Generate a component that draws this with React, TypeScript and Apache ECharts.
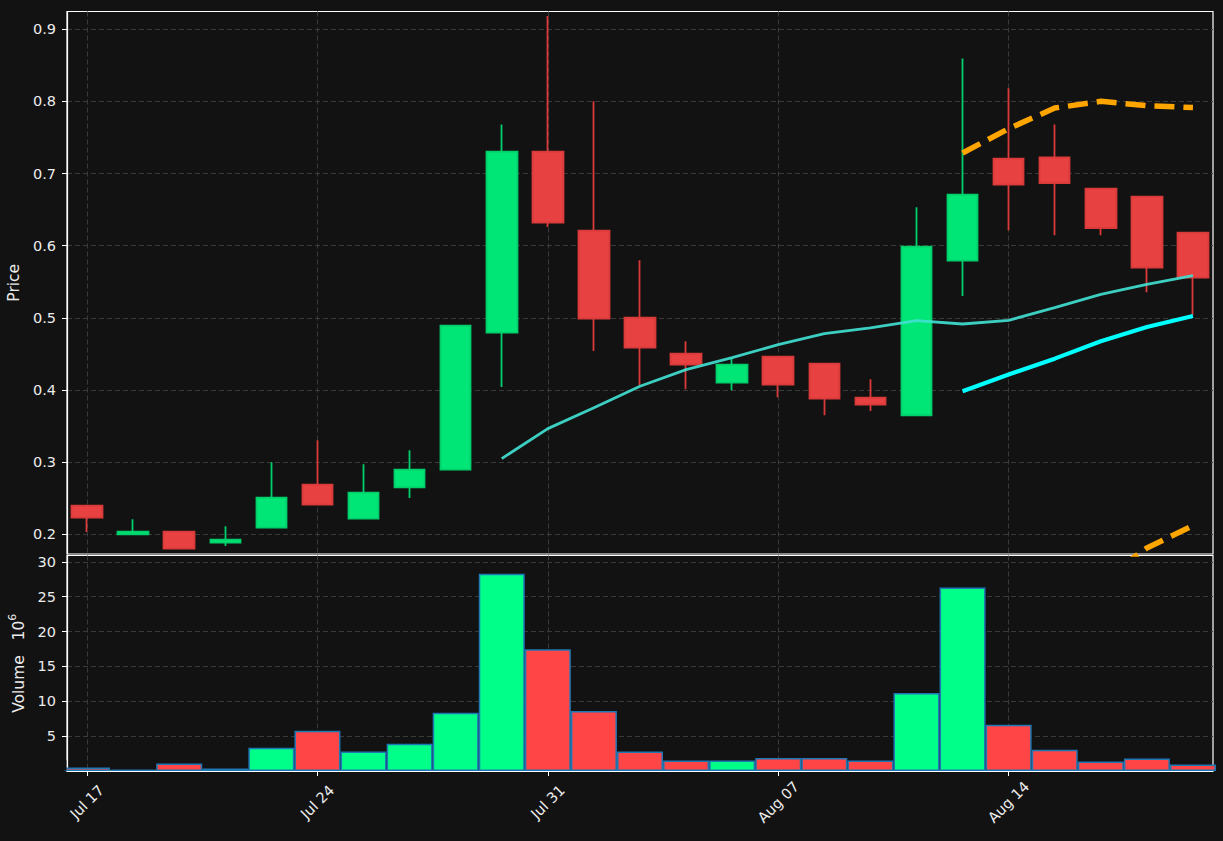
import React, { useEffect, useRef } from 'react';
import * as echarts from 'echarts';

// Trading days (weekends skipped)
const dates = [
  'Jul 17', 'Jul 18', 'Jul 19', 'Jul 20', 'Jul 21',
  'Jul 24', 'Jul 25', 'Jul 26', 'Jul 27', 'Jul 28',
  'Jul 31', 'Aug 01', 'Aug 02', 'Aug 03', 'Aug 04',
  'Aug 07', 'Aug 08', 'Aug 09', 'Aug 10', 'Aug 11',
  'Aug 14', 'Aug 15', 'Aug 16', 'Aug 17', 'Aug 18',
];

const opens = [
  0.2398, 0.2000, 0.2037, 0.1885, 0.2093,
  0.2689, 0.2218, 0.2651, 0.2897, 0.4796,
  0.7304, 0.6210, 0.5004, 0.4505, 0.4103,
  0.4463, 0.4366, 0.3895, 0.3650, 0.5794,
  0.7208, 0.7226, 0.6792, 0.6681, 0.6182,
];
const closes = [
  0.2231, 0.2037, 0.1802, 0.1927, 0.2509,
  0.2412, 0.2578, 0.2897, 0.4893, 0.7304,
  0.6321, 0.4990, 0.4588, 0.4352, 0.4352,
  0.4075, 0.3881, 0.3798, 0.5988, 0.6709,
  0.6848, 0.6870, 0.6246, 0.5697, 0.5558,
];
const lows = [
  0.2032, 0.2000, 0.1802, 0.1838, 0.2093,
  0.2412, 0.2213, 0.2503, 0.2897, 0.4042,
  0.6260, 0.4541, 0.4065, 0.4010, 0.3996,
  0.3899, 0.3650, 0.3709, 0.3650, 0.5303,
  0.6214, 0.6145, 0.6145, 0.5355, 0.5036,
];
const highs = [
  0.2398, 0.2208, 0.2037, 0.2111, 0.2998,
  0.3303, 0.2970, 0.3164, 0.4893, 0.7680,
  0.9185, 0.8002, 0.5798, 0.4675, 0.4449,
  0.4463, 0.4366, 0.4149, 0.6533, 0.8594,
  0.8183, 0.7680, 0.6805, 0.6681, 0.6182,
];

// Volume in millions
const volumes = [
  0.50, 0.20, 1.07, 0.35, 3.35,
  5.77, 2.78, 3.92, 8.34, 28.29,
  17.46, 8.62, 2.78, 1.50, 1.50,
  1.87, 1.87, 1.50, 11.19, 26.30,
  6.63, 3.06, 1.35, 1.78, 0.92,
];

const ma10 = [
  null, null, null, null, null,
  null, null, null, null, 0.3050,
  0.3465, 0.3754, 0.4052, 0.4283, 0.4449,
  0.4630, 0.4782, 0.4860, 0.4962, 0.4915,
  0.4966, 0.5142, 0.5327, 0.5466, 0.5586,
];
const ma20 = [
  null, null, null, null, null,
  null, null, null, null, null,
  null, null, null, null, null,
  null, null, null, null, 0.3982,
  0.4214, 0.4435, 0.4675, 0.4874, 0.5026,
];
const upperBand = [
  null, null, null, null, null,
  null, null, null, null, null,
  null, null, null, null, null,
  null, null, null, null, 0.7286,
  0.7623, 0.7909, 0.8002, 0.7942, 0.7915,
];
const lowerBand = [
  null, null, null, null, null,
  null, null, null, null, null,
  null, null, null, null, null,
  null, null, null, null, 0.068,
  0.081, 0.096, 0.135, 0.181, 0.212,
];

const dateTicks = [0, 5, 10, 15, 20];
const priceTicks = [0.2, 0.3, 0.4, 0.5, 0.6, 0.7, 0.8, 0.9];
const volumeTicks = [5, 10, 15, 20, 25, 30];

const FONT = 'DejaVu Sans';
const TEXT = '#ececec';

const pairs = (arr: (number | null)[]) =>
  arr.map((v, i) => [i, v]).filter((p) => p[1] != null);

export default function App() {
  const ref = useRef<HTMLDivElement>(null);

  useEffect(() => {
    if (!ref.current) return;
    const chart = echarts.init(ref.current, null, { renderer: 'svg' });

    const gridLine = {
      show: true,
      lineStyle: { color: '#3a3a3a', type: [5, 3], width: 1 },
    };
    const xMin = -0.435;
    const xMax = 24.435;

    const candleData = dates.map((_, i) => [i, opens[i], closes[i], lows[i], highs[i]]);
    const volData = volumes.map((v, i) => ({
      value: [i, v],
      itemStyle: { color: closes[i] >= opens[i] ? '#00ff88' : '#ff4545' },
    }));

    const option: any = {
      animation: false,
      backgroundColor: '#121212',
      textStyle: { fontFamily: FONT },
      grid: [
        {
          left: 67, top: 11.5, width: 1146, height: 542.5,
          show: true, borderColor: '#ffffff', borderWidth: 1.2,
          backgroundColor: 'transparent', containLabel: false, outerBoundsMode: 'none',
        },
        {
          left: 67, top: 555.5, width: 1146, height: 215.5,
          show: true, borderColor: '#ffffff', borderWidth: 1.2,
          backgroundColor: 'transparent', containLabel: false, outerBoundsMode: 'none',
        },
      ],
      // mask for the part of the first volume bar that spills left of the plot frame
      graphic: [
        {
          type: 'rect', z: 100, silent: true,
          shape: { x: 58, y: 760, width: 8.4, height: 10.5 },
          style: { fill: '#121212' },
        },
      ],
      xAxis: [
        {
          type: 'value', gridIndex: 0, min: xMin, max: xMax,
          axisLine: { show: false },
          axisTick: { show: false, customValues: dateTicks },
          axisLabel: { show: false, customValues: dateTicks },
          splitLine: gridLine,
        },
        {
          type: 'value', gridIndex: 1, min: xMin, max: xMax,
          axisLine: { show: true, onZero: false, lineStyle: { color: '#ffffff', width: 1.2 } },
          axisTick: { show: true, length: 5, customValues: dateTicks, lineStyle: { color: '#ffffff' } },
          axisLabel: {
            customValues: dateTicks,
            rotate: 45, align: 'center', verticalAlign: 'middle', margin: 31,
            color: TEXT, fontSize: 14.5, fontFamily: FONT,
            formatter: (v: number) => dates[Math.round(v)] ?? '',
          },
          splitLine: gridLine,
        },
      ],
      yAxis: [
        {
          type: 'value', gridIndex: 0, min: 0.17269, max: 0.92472,
          name: 'Price', nameLocation: 'middle', nameGap: 37,
          nameTextStyle: { color: TEXT, fontSize: 15.5, fontFamily: FONT },
          axisLine: { show: true, onZero: false, lineStyle: { color: '#ffffff', width: 1.2 } },
          axisTick: { show: true, length: 5, customValues: priceTicks, lineStyle: { color: '#ffffff' } },
          axisLabel: {
            customValues: priceTicks, margin: 11,
            color: TEXT, fontSize: 14.5, fontFamily: FONT,
            formatter: (v: number) => v.toFixed(1),
          },
          splitLine: gridLine,
        },
        {
          type: 'value', gridIndex: 1, min: 0, max: 30.9,
          name: '{v|Volume\u00a0\u00a0\u00a0}{n|10}{s|6}', nameLocation: 'middle', nameGap: 36,
          nameTextStyle: {
            color: TEXT, fontSize: 15.5, fontFamily: FONT,
            rich: {
              v: { color: TEXT, fontSize: 15.5, fontFamily: FONT, lineHeight: 20, verticalAlign: 'bottom' },
              n: { color: TEXT, fontSize: 15.5, fontFamily: FONT, lineHeight: 20, verticalAlign: 'bottom' },
              s: { color: TEXT, fontSize: 11, fontFamily: FONT, lineHeight: 20, verticalAlign: 'top' },
            },
          },
          axisLine: { show: true, onZero: false, lineStyle: { color: '#ffffff', width: 1.2 } },
          axisTick: { show: true, length: 5, customValues: volumeTicks, lineStyle: { color: '#ffffff' } },
          axisLabel: {
            customValues: volumeTicks, margin: 11,
            color: TEXT, fontSize: 14.5, fontFamily: FONT,
          },
          splitLine: gridLine,
        },
      ],
      series: [
        {
          type: 'candlestick', xAxisIndex: 0, yAxisIndex: 0,
          barWidth: 31, clip: true,
          dimensions: ['idx', 'open', 'close', 'lowest', 'highest'],
          encode: { x: 'idx', y: ['open', 'close', 'lowest', 'highest'] },
          data: candleData,
          itemStyle: {
            color: '#00e676', color0: '#e84142',
            borderColor: '#00cf6b', borderColor0: '#d93a3a',
            borderWidth: 1.8,
          },
          z: 2,
        },
        {
          type: 'line', xAxisIndex: 0, yAxisIndex: 0, clip: true,
          data: pairs(ma10), showSymbol: false, symbol: 'none',
          lineStyle: { color: '#40e0d0', width: 2.8, opacity: 0.92 },
          z: 3,
        },
        {
          type: 'line', xAxisIndex: 0, yAxisIndex: 0, clip: true,
          data: pairs(ma20), showSymbol: false, symbol: 'none',
          lineStyle: { color: '#00ffff', width: 4.2 },
          z: 3,
        },
        {
          type: 'line', xAxisIndex: 0, yAxisIndex: 0, clip: true,
          data: pairs(upperBand), showSymbol: false, symbol: 'none',
          lineStyle: { color: '#ffa500', width: 5.5, type: [20, 9], cap: 'butt' },
          z: 3,
        },
        {
          type: 'line', xAxisIndex: 0, yAxisIndex: 0, clip: true,
          data: pairs(lowerBand), showSymbol: false, symbol: 'none',
          lineStyle: { color: '#ffa500', width: 5.5, type: [20, 9], cap: 'butt' },
          z: 3,
        },
        {
          type: 'bar', xAxisIndex: 1, yAxisIndex: 1, clip: true,
          barWidth: 46,
          data: volData,
          itemStyle: { borderColor: '#1f77b4', borderWidth: 1.5 },
        },
      ],
    };

    chart.setOption(option);
    return () => chart.dispose();
  }, []);

  return (
    <div
      ref={ref}
      style={{ position: 'fixed', left: 0, top: 0, width: 1223, height: 841, background: '#121212' }}
    />
  );
}
